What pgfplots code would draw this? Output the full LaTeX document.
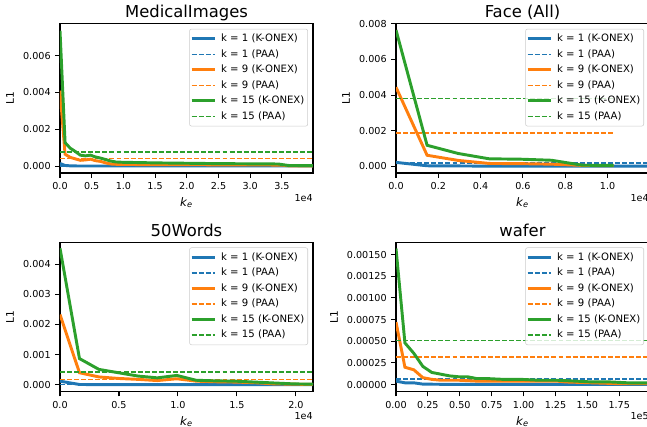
\documentclass[border=0pt]{standalone}
\usepackage{fontspec}
\setmainfont{DejaVu Sans}
\usepackage{pgfplots}
\pgfplotsset{compat=1.18}

\definecolor{tabblue}{HTML}{1F77B4}
\definecolor{taborange}{HTML}{FF7F0E}
\definecolor{tabgreen}{HTML}{2CA02C}

\pgfplotsset{
  panel/.style={
    scale only axis, width=189.75pt, height=111.9pt, anchor=south west,
    axis line style={line width=0.8pt},
    tick pos=left, tick align=outside, major tick length=3.5pt,
    tick style={black, line width=0.8pt},
    scaled ticks=false,
    tick label style={font=\fontsize{7.2}{8.6}\selectfont},
    label style={font=\fontsize{7.9}{9.5}\selectfont},
    xlabel style={font=\fontsize{8.8}{10}\selectfont, yshift=1pt},
    title style={font=\fontsize{12.3}{14}\selectfont, at={(0.5,1)}, anchor=base, yshift=-1.6pt, inner sep=0pt},
    xlabel={\textit{k}\textsubscript{\textit{e}}},
    ylabel={L1},
    clip mode=individual,
    legend cell align=left,
    legend image code/.code={\draw[##1] (0pt,0pt) -- (17.5pt,0pt);},
    legend style={at={(1,1)}, anchor=north east, xshift=-3.75pt, yshift=-3.75pt,
      draw=black!20, rounded corners=1.5pt, fill=white, fill opacity=0.8,
      text opacity=1, draw opacity=1,
      font=\fontsize{7.6}{9}\selectfont,
      inner xsep=0.5pt, inner ysep=1.7pt, row sep=0.35pt,
      nodes={inner sep=2pt, text depth=0.15em},
      /tikz/every odd column/.append style={column sep=1.5pt}},
  },
  konex/.style={line width=2.2pt},
  paa/.style={line width=1.1pt, dash pattern=on 3.7pt off 1.6pt},
}

\begin{document}
\begin{tikzpicture}
\useasboundingbox (0,0) rectangle (485.25pt,320.25pt);

% ---------------- MedicalImages
\begin{axis}[panel, at={(45pt,190.5pt)}, title={MedicalImages},
    xmin=0, xmax=39900, ymin=-0.000368, ymax=0.00772,
    xtick={0,5000,10000,15000,20000,25000,30000,35000},
    xticklabels={0.0,0.5,1.0,1.5,2.0,2.5,3.0,3.5},
    ytick={0,0.002,0.004,0.006},
    yticklabels={0.000,0.002,0.004,0.006}]
\addplot[konex, tabblue] coordinates {(0,0.00015) (800,0.00004) (1600,0.00002) (3000,0.00001) (39900,0.00001)};
\addlegendentry{k = 1 (K-ONEX)}
\addplot[paa, tabblue] coordinates {(0,0.00002) (39900,0.00002)};
\addlegendentry{k = 1 (PAA)}
\addplot[konex, taborange] coordinates {(0,0.0041) (800,0.00065) (1600,0.00048) (2400,0.00040) (3200,0.00032) (4000,0.00034) (4800,0.00038) (5600,0.00030) (6400,0.00026) (7200,0.00018) (8000,0.00012) (9000,0.00010) (12000,0.00009) (20000,0.00008) (30000,0.00007) (35000,0.00006) (36000,0.00002) (39900,0.00001)};
\addlegendentry{k = 9 (K-ONEX)}
\addplot[paa, taborange] coordinates {(0,0.00042) (39900,0.00042)};
\addlegendentry{k = 9 (PAA)}
\addplot[konex, tabgreen] coordinates {(0,0.00735) (800,0.00128) (1600,0.00098) (2400,0.00080) (3200,0.00060) (4000,0.00056) (4800,0.00060) (5600,0.00050) (6400,0.00044) (7200,0.00036) (8000,0.00028) (8800,0.00023) (10000,0.00021) (12000,0.00020) (15000,0.00018) (20000,0.00016) (25000,0.00014) (30000,0.00013) (34400,0.00012) (35200,0.00008) (36000,0.00004) (39900,0.00003)};
\addlegendentry{k = 15 (K-ONEX)}
\addplot[paa, tabgreen] coordinates {(0,0.00076) (39900,0.00076)};
\addlegendentry{k = 15 (PAA)}
\node[anchor=north east, inner sep=0pt, font=\fontsize{7.2}{8.6}\selectfont, yshift=-15.75pt] at (rel axis cs:1,0) {1e4};
\end{axis}

% ---------------- Face (All)
\begin{axis}[panel, at={(297pt,190.5pt)}, title={Face (All)},
    xmin=0, xmax=11960, ymin=-0.000375, ymax=0.00800,
    xtick={0,2000,4000,6000,8000,10000},
    xticklabels={0.0,0.2,0.4,0.6,0.8,1.0},
    ytick={0,0.002,0.004,0.006,0.008},
    yticklabels={0.000,0.002,0.004,0.006,0.008}]
\addplot[konex, tabblue] coordinates {(0,0.00022) (1470,0.00003) (2940,0.00002) (4410,0.00001) (11960,0.00001)};
\addlegendentry{k = 1 (K-ONEX)}
\addplot[paa, tabblue] coordinates {(0,0.00019) (11960,0.00019)};
\addlegendentry{k = 1 (PAA)}
\addplot[konex, taborange] coordinates {(0,0.00444) (1470,0.00062) (2940,0.00033) (4410,0.00016) (5880,0.00015) (7350,0.00012) (8820,0.00005) (10290,0.00003)};
\addlegendentry{k = 9 (K-ONEX)}
\addplot[paa, taborange] coordinates {(0,0.00188) (10290,0.00188)};
\addlegendentry{k = 9 (PAA)}
\addplot[konex, tabgreen] coordinates {(0,0.00765) (1470,0.00118) (2940,0.00072) (4410,0.00042) (5880,0.00040) (7350,0.00034) (8820,0.00006) (10290,0.00005)};
\addlegendentry{k = 15 (K-ONEX)}
\addplot[paa, tabgreen] coordinates {(0,0.00381) (10290,0.00381)};
\addlegendentry{k = 15 (PAA)}
\node[anchor=north east, inner sep=0pt, font=\fontsize{7.2}{8.6}\selectfont, yshift=-15.75pt] at (rel axis cs:1,0) {1e4};
\end{axis}

% ---------------- 50Words
\begin{axis}[panel, at={(45pt,26.5pt)}, title={50Words},
    xmin=0, xmax=21450, ymin=-0.000228, ymax=0.00472,
    xtick={0,5000,10000,15000,20000},
    xticklabels={0.0,0.5,1.0,1.5,2.0},
    ytick={0,0.001,0.002,0.003,0.004},
    yticklabels={0.000,0.001,0.002,0.003,0.004}]
\addplot[konex, tabblue] coordinates {(0,0.00012) (1650,0.00001) (3300,0.000005) (21450,0.000005)};
\addlegendentry{k = 1 (K-ONEX)}
\addplot[paa, tabblue] coordinates {(0,0.000003) (21450,0.000003)};
\addlegendentry{k = 1 (PAA)}
\addplot[konex, taborange] coordinates {(0,0.00233) (1650,0.00040) (3300,0.00026) (4950,0.00021) (6600,0.00018) (8250,0.00014) (9900,0.00020) (11550,0.00012) (13200,0.00010) (14850,0.00009) (16500,0.00007) (18150,0.00003) (19800,0.00002) (21450,0.00001)};
\addlegendentry{k = 9 (K-ONEX)}
\addplot[paa, taborange] coordinates {(0,0.00017) (21450,0.00017)};
\addlegendentry{k = 9 (PAA)}
\addplot[konex, tabgreen] coordinates {(0,0.00453) (1650,0.00087) (3300,0.00051) (4950,0.00040) (6600,0.00029) (8250,0.00023) (9900,0.00031) (11550,0.00015) (13200,0.00013) (14850,0.00012) (16500,0.00009) (18150,0.00006) (19800,0.00003) (21450,0.00002)};
\addlegendentry{k = 15 (K-ONEX)}
\addplot[paa, tabgreen] coordinates {(0,0.00043) (21450,0.00043)};
\addlegendentry{k = 15 (PAA)}
\node[anchor=north east, inner sep=0pt, font=\fontsize{7.2}{8.6}\selectfont, yshift=-15.75pt] at (rel axis cs:1,0) {1e4};
\end{axis}

% ---------------- wafer
\begin{axis}[panel, at={(297pt,26.5pt)}, title={wafer},
    xmin=0, xmax=198300, ymin=-0.000082, ymax=0.00164,
    xtick={0,25000,50000,75000,100000,125000,150000,175000},
    xticklabels={0.00,0.25,0.50,0.75,1.00,1.25,1.50,1.75},
    ytick={0,0.00025,0.0005,0.00075,0.001,0.00125,0.0015},
    yticklabels={0.00000,0.00025,0.00050,0.00075,0.00100,0.00125,0.00150}]
\addplot[konex, tabblue] coordinates {(0,0.00004) (7000,0.00002) (14000,0.00002) (21000,0.000005) (35000,0.000003) (198300,0.000003)};
\addlegendentry{k = 1 (K-ONEX)}
\addplot[paa, tabblue] coordinates {(0,0.000065) (198300,0.000065)};
\addlegendentry{k = 1 (PAA)}
\addplot[konex, taborange] coordinates {(0,0.00072) (7000,0.00020) (14000,0.00017) (21000,0.00008) (28000,0.00006) (35000,0.00005) (49000,0.00005) (63000,0.00004) (84000,0.00004) (112000,0.00004) (126000,0.00004) (133000,0.00003) (154000,0.00002) (175000,0.00001) (198300,0.00001)};
\addlegendentry{k = 9 (K-ONEX)}
\addplot[paa, taborange] coordinates {(0,0.00032) (198300,0.00032)};
\addlegendentry{k = 9 (PAA)}
\addplot[konex, tabgreen] coordinates {(0,0.00157) (7000,0.00048) (14000,0.00036) (21000,0.00021) (28000,0.00014) (35000,0.00012) (42000,0.00010) (49000,0.00009) (56000,0.00009) (63000,0.00007) (70000,0.00007) (84000,0.00006) (98000,0.00006) (112000,0.00005) (126000,0.00005) (140000,0.00004) (154000,0.00003) (168000,0.00003) (182000,0.00002) (198300,0.00002)};
\addlegendentry{k = 15 (K-ONEX)}
\addplot[paa, tabgreen] coordinates {(0,0.00051) (198300,0.00051)};
\addlegendentry{k = 15 (PAA)}
\node[anchor=north east, inner sep=0pt, font=\fontsize{7.2}{8.6}\selectfont, yshift=-15.75pt] at (rel axis cs:1,0) {1e5};
\end{axis}
\end{tikzpicture}
\end{document}
